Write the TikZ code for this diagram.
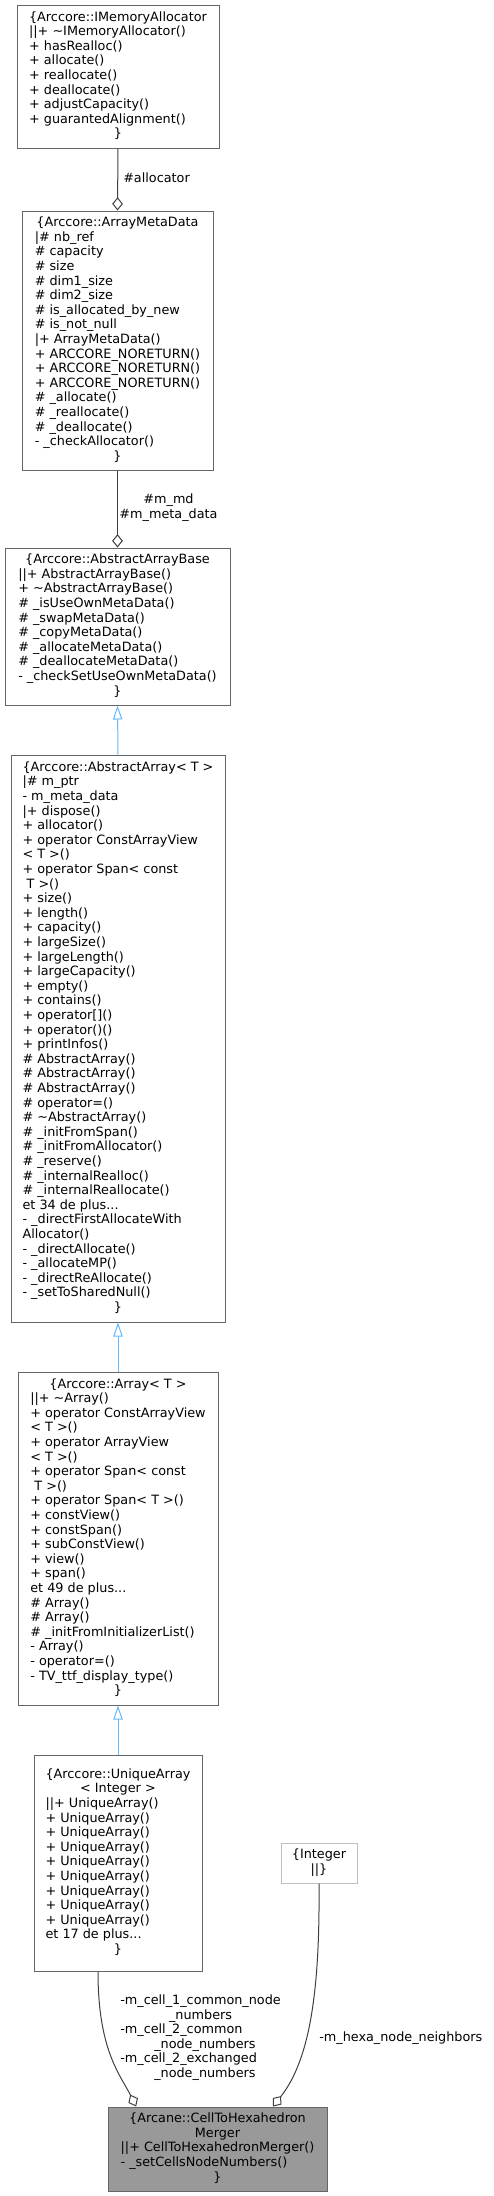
\documentclass[tikz,border=0pt]{standalone}
\usepackage{fontspec}
\setmainfont{DejaVu Sans}
\usetikzlibrary{arrows.meta}
\definecolor{grey25}{HTML}{404040}
\definecolor{grey40}{HTML}{666666}
\definecolor{grey60}{HTML}{999999}
\definecolor{grey75}{HTML}{BFBFBF}
\definecolor{steelblue1}{HTML}{63B8FF}
\newcommand{\dxfont}{\fontsize{9.6}{10.95}\selectfont}
\newcommand{\ctr}[1]{\multicolumn{1}{@{}c@{}}{#1}}
\newcommand{\tld}{\textasciitilde}

\begin{document}
\begin{tikzpicture}[x=0.75pt,y=-0.75pt,
  cls/.style={draw=grey40, fill=white, line width=0.75pt, inner sep=0pt, font=\dxfont},
  usage/.style={draw=grey25, line width=0.75pt, -{Diamond[open,length=10pt,width=8pt]}},
  inherit/.style={draw=steelblue1, line width=0.75pt, -{Triangle[open,length=10.5pt,width=7pt]}},
  lbl/.style={inner sep=0pt, font=\dxfont}]
\useasboundingbox (0,0) rectangle (493,2196);

\node[cls, minimum width=151.5pt, minimum height=107.25pt] (alloc) at (118,76.5) {\begin{tabular}{@{}l@{}}
\ctr{\{Arccore::IMemoryAllocator}\\
||+ \tld IMemoryAllocator()\\
+ hasRealloc()\\
+ allocate()\\
+ reallocate()\\
+ deallocate()\\
+ adjustCapacity()\\
+ guarantedAlignment()\\
\ctr{\}}
\end{tabular}};

\node[cls, minimum width=143.25pt, minimum height=194.25pt] (meta) at (117.5,340.5) {\begin{tabular}{@{}l@{}}
\ctr{\{Arccore::ArrayMetaData}\\
|\# nb\_ref\\
\# capacity\\
\# size\\
\# dim1\_size\\
\# dim2\_size\\
\# is\_allocated\_by\_new\\
\# is\_not\_null\\
|+ ArrayMetaData()\\
+ ARCCORE\_NORETURN()\\
+ ARCCORE\_NORETURN()\\
+ ARCCORE\_NORETURN()\\
\# \_allocate()\\
\# \_reallocate()\\
\# \_deallocate()\\
- \_checkAllocator()\\
\ctr{\}}
\end{tabular}};

\node[cls, minimum width=168.75pt, minimum height=117.75pt] (base) at (117.5,626.5) {\begin{tabular}{@{}l@{}}
\ctr{\{Arccore::AbstractArrayBase}\\
||+ AbstractArrayBase()\\
+ \tld AbstractArrayBase()\\
\# \_isUseOwnMetaData()\\
\# \_swapMetaData()\\
\# \_copyMetaData()\\
\# \_allocateMetaData()\\
\# \_deallocateMetaData()\\
- \_checkSetUseOwnMetaData()\\
\ctr{\}}
\end{tabular}};

\node[cls, minimum width=160.5pt, minimum height=425.25pt] (abs) at (118,1038.5) {\begin{tabular}{@{}l@{}}
\ctr{\{Arccore::AbstractArray< T >}\\
|\# m\_ptr\\
- m\_meta\_data\\
|+ dispose()\\
+ allocator()\\
+ operator ConstArrayView\\
< T >()\\
+ operator Span< const\\
\ T >()\\
+ size()\\
+ length()\\
+ capacity()\\
+ largeSize()\\
+ largeLength()\\
+ largeCapacity()\\
+ empty()\\
+ contains()\\
+ operator[]()\\
+ operator()()\\
+ printInfos()\\
\# AbstractArray()\\
\# AbstractArray()\\
\# AbstractArray()\\
\# operator=()\\
\# \tld AbstractArray()\\
\# \_initFromSpan()\\
\# \_initFromAllocator()\\
\# \_reserve()\\
\# \_internalRealloc()\\
\# \_internalReallocate()\\
et 34 de plus...\\
- \_directFirstAllocateWith\\
Allocator()\\
- \_directAllocate()\\
- \_allocateMP()\\
- \_directReAllocate()\\
- \_setToSharedNull()\\
\ctr{\}}
\end{tabular}};

\node[cls, minimum width=150pt, minimum height=249.75pt] (arr) at (118,1538.5) {\begin{tabular}{@{}l@{}}
\ctr{\{Arccore::Array< T >}\\
||+ \tld Array()\\
+ operator ConstArrayView\\
< T >()\\
+ operator ArrayView\\
< T >()\\
+ operator Span< const\\
\ T >()\\
+ operator Span< T >()\\
+ constView()\\
+ constSpan()\\
+ subConstView()\\
+ view()\\
+ span()\\
et 49 de plus...\\
\# Array()\\
\# Array()\\
\# \_initFromInitializerList()\\
- Array()\\
- operator=()\\
- TV\_ttf\_display\_type()\\
\ctr{\}}
\end{tabular}};

\node[cls, minimum width=126pt, minimum height=162pt] (uniq) at (118,1863) {\begin{tabular}{@{}l@{}}
\ctr{\{Arccore::UniqueArray}\\
\ctr{< Integer >}\\
||+ UniqueArray()\\
+ UniqueArray()\\
+ UniqueArray()\\
+ UniqueArray()\\
+ UniqueArray()\\
+ UniqueArray()\\
+ UniqueArray()\\
+ UniqueArray()\\
+ UniqueArray()\\
et 17 de plus...\\
\ctr{\}}
\end{tabular}};

\node[cls, draw=grey75, minimum width=57pt, minimum height=30pt] (integ) at (319,1863) {\begin{tabular}{@{}c@{}}
\{Integer\\
||\}
\end{tabular}};

\node[cls, fill=grey60, minimum width=164.25pt, minimum height=63pt] (merger) at (217.5,2149) {\begin{tabular}{@{}l@{}}
\ctr{\{Arcane::CellToHexahedron}\\
\ctr{Merger}\\
||+ CellToHexahedronMerger()\\
- \_setCellsNodeNumbers()\\
\ctr{\}}
\end{tabular}};

% members
\draw[usage] (alloc.south) -- (meta.north);
\node[lbl, anchor=west] (lalloc) at (123,178) {\#allocator};
\draw[usage] (meta.south) -- (base.north);
\node[lbl, align=center] (lmd) at (168.5,507.5) {\#m\_md\\\#m\_meta\_data};

% inheritance
\draw[inherit] (abs.north) -- (base.south);
\draw[inherit] (arr.north) -- (abs.south);
\draw[inherit] (uniq.north) -- (arr.south);

% merger members
\draw[usage] ([xshift=-15pt]uniq.south) .. controls +(0,79) and +(-16,-32) .. ([xshift=-61pt]merger.north);
\draw[usage] (integ.south) .. controls +(1,107) and +(37,-47) .. ([xshift=41.6pt]merger.north);
\node[lbl, anchor=north west] (lcells) at (120,1994) {\begin{tabular}{@{}l@{}}
\ctr{-m\_cell\_1\_common\_node}\\
\ctr{\_numbers}\\
-m\_cell\_2\_common\\
\hspace{25.5pt}\_node\_numbers\\
-m\_cell\_2\_exchanged\\
\hspace{25.5pt}\_node\_numbers
\end{tabular}};
\node[lbl, anchor=west] (lhexa) at (319,2038) {-m\_hexa\_node\_neighbors};
\end{tikzpicture}
\end{document}
